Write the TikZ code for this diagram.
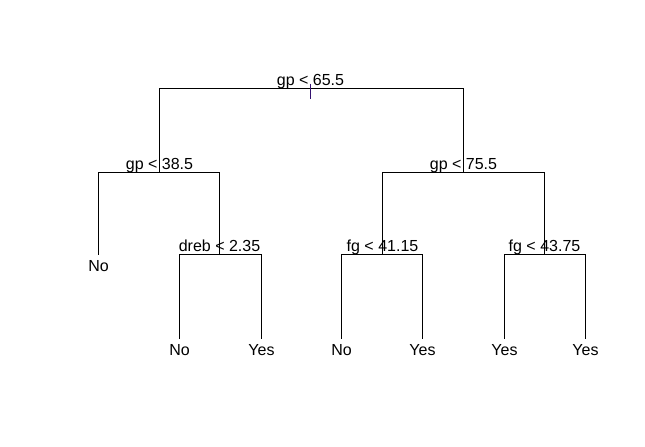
\documentclass[tikz,border=0pt]{standalone}
\usepackage{fontspec}
\setmainfont{Liberation Sans}
\definecolor{tickpurple}{RGB}{52,18,112}

\begin{document}
\begin{tikzpicture}[x=0.75pt,y=0.75pt,yscale=-1,xscale=1,
  line width=0.75pt,
  splitlabel/.style={anchor=base,inner sep=0pt,font=\fontsize{12}{14}\selectfont},
  leaflabel/.style={anchor=base,inner sep=0pt,font=\fontsize{12}{14}\selectfont}]
\useasboundingbox (0,0) rectangle (645,446);

\begin{scope}[shift={(0.5,0.5)}]
%Split points
\coordinate (gp655) at (310,88);
\coordinate (gp385) at (159,172);
\coordinate (gp755) at (463,172);
\coordinate (dreb235) at (219,254);
\coordinate (fg4115) at (382,254);
\coordinate (fg4375) at (544,254);
%Leaves
\coordinate (leafa) at (98,254);
\coordinate (leafb) at (179,338);
\coordinate (leafc) at (261,338);
\coordinate (leafd) at (341,338);
\coordinate (leafe) at (422,338);
\coordinate (leaff) at (504,338);
\coordinate (leafg) at (585,338);

%Branches
\draw (gp385) |- (gp655) -| (gp755) ;
\draw (leafa) |- (gp385) -| (dreb235) ;
\draw (fg4115) |- (gp755) -| (fg4375) ;
\draw (leafb) |- (dreb235) -| (leafc) ;
\draw (leafd) |- (fg4115) -| (leafe) ;
\draw (leaff) |- (fg4375) -| (leafg) ;

%Tick at root
\coordinate (ticktop) at (310,83);
\coordinate (tickbot) at (310,98);
\draw [color=tickpurple] (ticktop) -- (tickbot) ;
\end{scope}

% Split labels
\node (lgp655) [splitlabel] at ([yshift=-2.25pt]gp655) {gp < 65.5};
\node (lgp385) [splitlabel] at ([yshift=-2.25pt]gp385) {gp < 38.5};
\node (lgp755) [splitlabel] at ([yshift=-2.25pt]gp755) {gp < 75.5};
\node (ldreb235) [splitlabel] at ([yshift=-2pt]dreb235) {dreb < 2.35};
\node (lfg4115) [splitlabel] at ([yshift=-2pt]fg4115) {fg < 41.15};
\node (lfg4375) [splitlabel] at ([yshift=-2pt]fg4375) {fg < 43.75};
% Leaf labels
\node (lleafa) [leaflabel] at ([yshift=12.75pt]leafa) {No};
\node (lleafb) [leaflabel] at ([yshift=12.5pt]leafb) {No};
\node (lleafc) [leaflabel] at ([yshift=12.5pt]leafc) {Yes};
\node (lleafd) [leaflabel] at ([yshift=12.5pt]leafd) {No};
\node (lleafe) [leaflabel] at ([yshift=12.5pt]leafe) {Yes};
\node (lleaff) [leaflabel] at ([yshift=12.5pt]leaff) {Yes};
\node (lleafg) [leaflabel] at ([yshift=12.5pt]leafg) {Yes};

\end{tikzpicture}
\end{document}
